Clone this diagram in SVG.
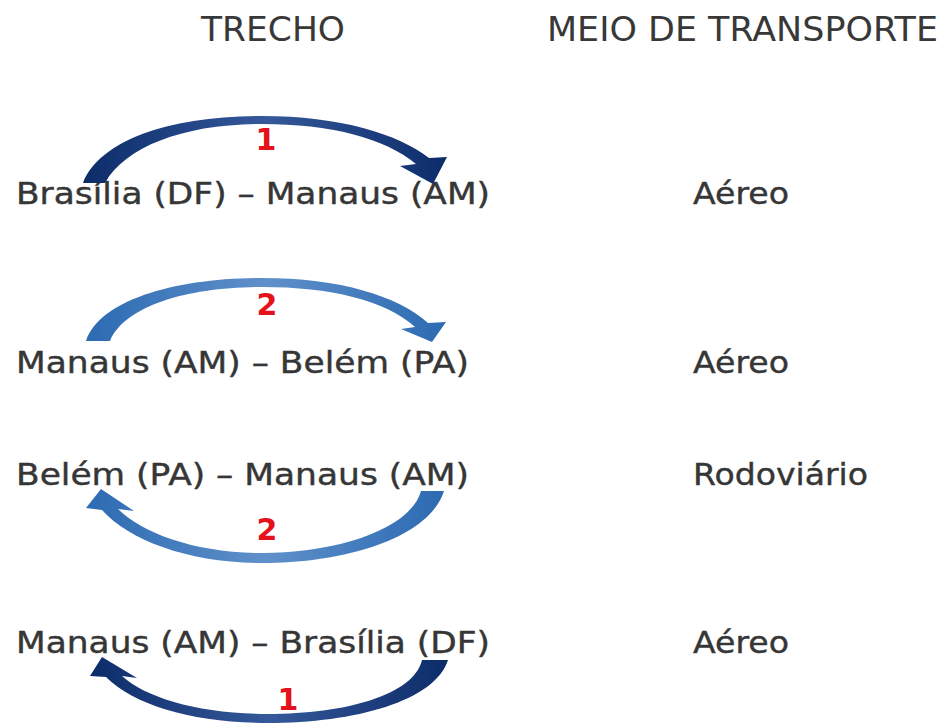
<svg xmlns="http://www.w3.org/2000/svg" width="948" height="724" viewBox="0 0 948 724">
<style>
.hdr{font-family:"DejaVu Sans","Liberation Sans",sans-serif;font-size:33px;fill:#383838}
.txt{font-family:"DejaVu Sans","Liberation Sans",sans-serif;font-size:30px;fill:#363636;stroke:#363636;stroke-width:0.4}
.num{font-family:"DejaVu Sans","Liberation Sans",sans-serif;font-size:30px;font-weight:bold;fill:#e3121b;text-anchor:middle}
.dark{fill:url(#gDark)}
.light{fill:url(#gLight)}
</style>
<defs>
<linearGradient id="gDark" x1="0" y1="0" x2="1" y2="0">
<stop offset="0" stop-color="#0c2b69"/>
<stop offset="0.5" stop-color="#35599a"/>
<stop offset="1" stop-color="#0c2b69"/>
</linearGradient>
<linearGradient id="gLight" x1="0" y1="0" x2="1" y2="0">
<stop offset="0" stop-color="#2c6ab2"/>
<stop offset="0.5" stop-color="#5f90ca"/>
<stop offset="1" stop-color="#2c6ab2"/>
</linearGradient>
</defs>
<rect width="948" height="724" fill="#ffffff"/>
<g id="headers">
<text class="hdr" x="201" y="41" textLength="144" lengthAdjust="spacingAndGlyphs">TRECHO</text>
<text class="hdr" x="547" y="41" textLength="391" lengthAdjust="spacingAndGlyphs">MEIO DE TRANSPORTE</text>
</g>
<g id="row1">
<text class="txt" x="16" y="204" textLength="474" lengthAdjust="spacingAndGlyphs">Brasília (DF) – Manaus (AM)</text>
<text class="txt" x="693" y="204" textLength="96" lengthAdjust="spacingAndGlyphs">Aéreo</text>
</g>
<g id="row2">
<text class="txt" x="16" y="373" textLength="453" lengthAdjust="spacingAndGlyphs">Manaus (AM) – Belém (PA)</text>
<text class="txt" x="693" y="373" textLength="96" lengthAdjust="spacingAndGlyphs">Aéreo</text>
</g>
<g id="row3">
<text class="txt" x="16" y="485" textLength="453" lengthAdjust="spacingAndGlyphs">Belém (PA) – Manaus (AM)</text>
<text class="txt" x="693" y="485" textLength="175" lengthAdjust="spacingAndGlyphs">Rodoviário</text>
</g>
<g id="row4">
<text class="txt" x="16" y="653" textLength="474" lengthAdjust="spacingAndGlyphs">Manaus (AM) – Brasília (DF)</text>
<text class="txt" x="693" y="653" textLength="96" lengthAdjust="spacingAndGlyphs">Aéreo</text>
</g>
<g id="connectors">
<path class="dark" d="M83,183 C100,140 170,116 262,116 C340,116 398,134 429,158 L447,157 L433,184 L400,166 L416,164 C385,138 330,124 262,124 C185,124 126,146 105,183 Z"/>
<path class="light" d="M86,341 C100,300 175,278 262,278 C340,278 398,296 428,323 L446,322 L432,342 L401,329 L415,327 C385,300 330,287 262,287 C190,287 125,305 110,341 Z"/>
<path class="light" d="M444,491 C430,536 350,563 262,563 C190,563 130,541 102,510 L86,508 L101,489 L134,511 L118,509 C142,533 195,553 262,553 C335,553 410,530 421,491 Z"/>
<path class="dark" d="M448,660 C435,701 355,723 268,723 C195,723 135,706 106,677 L90,676 L102,657 L137,678 L122,676 C146,698 200,714 268,714 C345,714 414,695 422,660 Z"/>
<text class="num" x="266" y="150">1</text>
<text class="num" x="267" y="315">2</text>
<text class="num" x="267" y="540">2</text>
<text class="num" x="288" y="710">1</text>
</g>
</svg>
